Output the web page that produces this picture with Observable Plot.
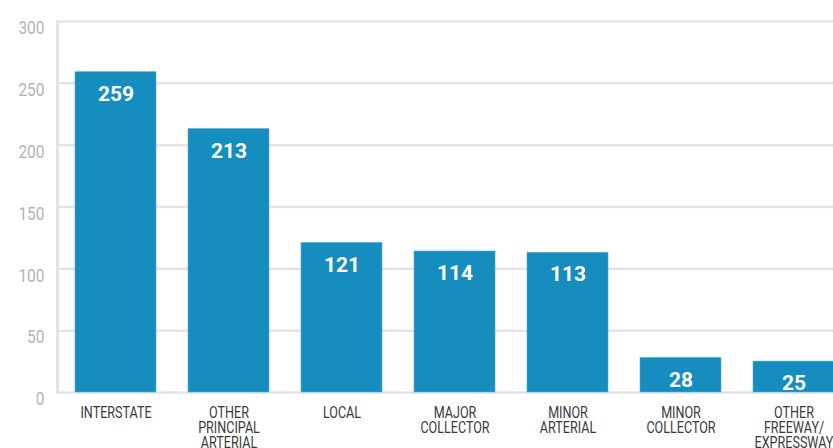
<!DOCTYPE html>
<html>
<head>
<meta charset="utf-8">
<script src="https://cdn.jsdelivr.net/npm/d3@7"></script>
<script src="https://cdn.jsdelivr.net/npm/@observablehq/plot@0.6"></script>
<style>
  html, body { margin: 0; padding: 0; background: #ffffff; overflow: hidden; width: 833px; height: 448px; }
  #chart svg { display: block; max-width: none !important; }
</style>
</head>
<body>
<div id="chart"></div>
<script>
const categories = ["INTERSTATE", "OTHER PRINCIPAL ARTERIAL", "LOCAL", "MAJOR COLLECTOR", "MINOR ARTERIAL", "MINOR COLLECTOR", "OTHER FREEWAY/EXPRESSWAY"];
const values = [259, 213, 121, 114, 113, 28, 25];
const tickLabels = ["INTERSTATE", "OTHER\nPRINCIPAL\nARTERIAL", "LOCAL", "MAJOR\nCOLLECTOR", "MINOR\nARTERIAL", "MINOR\nCOLLECTOR", "OTHER\nFREEWAY/\nEXPRESSWAY"];
const yTicks = [0, 50, 100, 150, 200, 250, 300];

const data = categories.map((c, i) => ({category: c, value: values[i], label: tickLabels[i]}));
const labelOf = new Map(data.map(d => [d.category, d.label]));

const font = "Roboto, 'Liberation Sans', sans-serif";

const chart = Plot.plot({
  width: 852,
  height: 448,
  marginTop: 21,
  marginBottom: 56,
  marginLeft: 57,
  marginRight: 0,
  style: {fontFamily: font, background: "#ffffff", maxWidth: "none"},
  x: {domain: categories, paddingInner: 0.279, paddingOuter: 0.146},
  y: {domain: [0, 300]},
  marks: [
    Plot.ruleY(yTicks, {stroke: "#e4e4e4", strokeWidth: 2.5}),
    Plot.frame({anchor: "left", stroke: "#e4e4e4", strokeWidth: 3}),
    Plot.barY(data, {x: "category", y: "value", fill: "#168dbf", stroke: "#5aa9d0", strokeWidth: 0.6}),
    Plot.text(data, {x: "category", y: "value", text: d => String(d.value), dy: 22, fill: "#ffffff", fontSize: 21, fontWeight: "bold", lineAnchor: "middle", ariaLabel: "value-label"}),
    Plot.axisY({ticks: yTicks, tickSize: 0, tickPadding: 13, dy: 7, fill: "#b3b3b3", fontSize: 18, label: null}),
    Plot.axisX({tickSize: 0, tickPadding: 15, fill: "#3a3a3a", fontSize: 17, lineHeight: 0.88, label: null, tickFormat: c => labelOf.get(c)})
  ]
});
document.getElementById("chart").append(chart);

function squeeze(selector, s) {
  chart.querySelectorAll(selector).forEach(t => {
    const tr = t.getAttribute("transform");
    if (tr) {
      t.setAttribute("transform", tr + ` scale(${s},1)`);
    } else {
      const x = +(t.getAttribute("x") || 0);
      t.setAttribute("transform", `translate(${x},0) scale(${s},1) translate(${-x},0)`);
    }
  });
}
squeeze('g[aria-label="x-axis tick label"] text', 0.74);
squeeze('g[aria-label="y-axis tick label"] text', 0.86);
squeeze('g[aria-label="value-label"] text', 0.82);
</script>
</body>
</html>
